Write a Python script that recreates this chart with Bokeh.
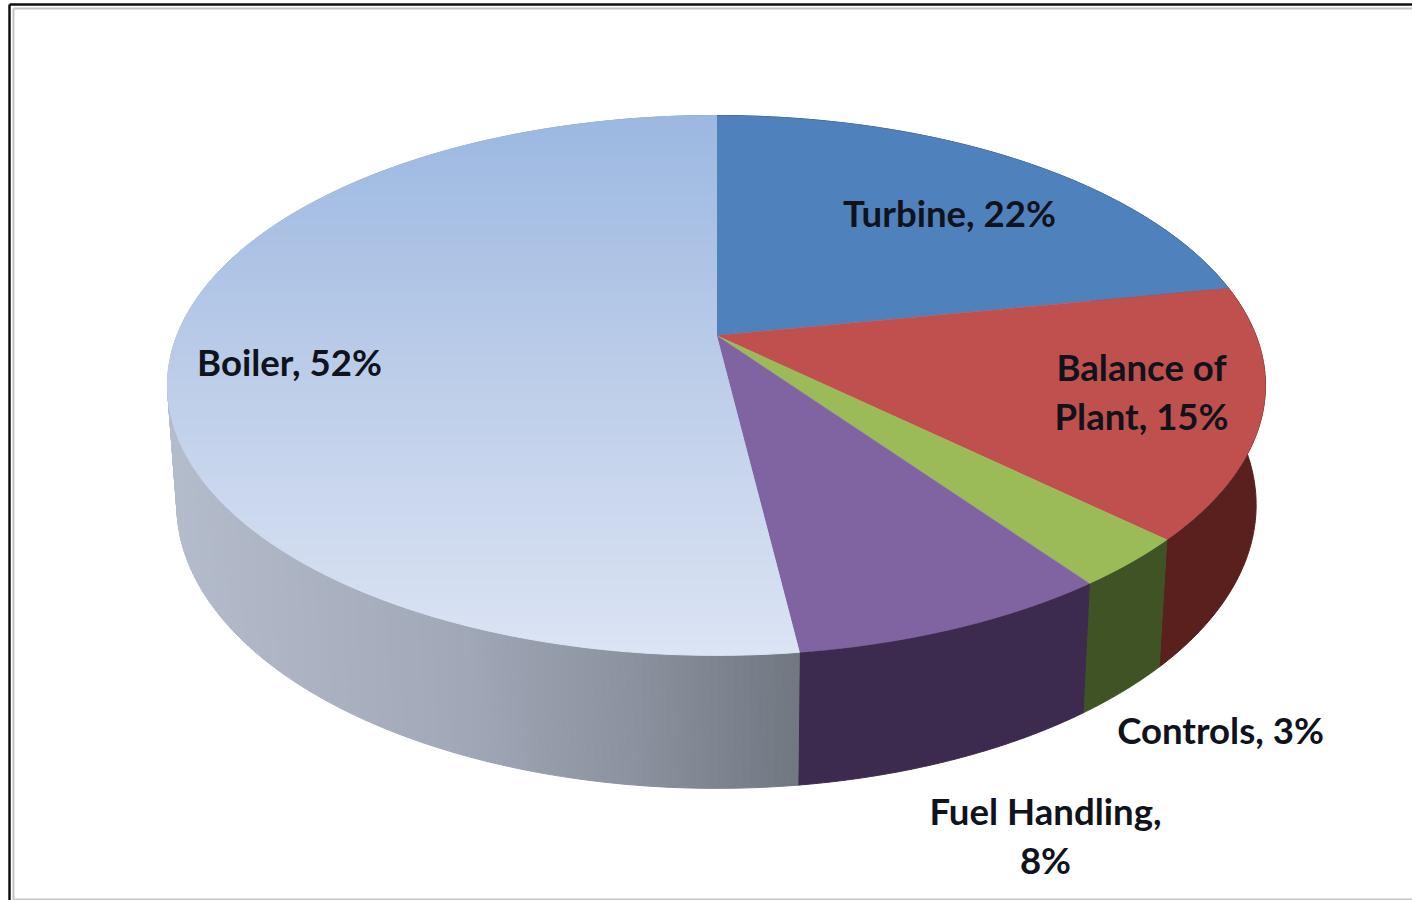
import numpy as np
from bokeh.plotting import figure
from bokeh.core.properties import value
from bokeh.embed import file_html
from bokeh.resources import INLINE

# ---- data ----
categories = ["Turbine", "Balance of Plant", "Controls", "Fuel Handling", "Boiler"]
shares = [22, 15, 3, 8, 52]
top_colors = ["#4f81bd", "#c0504d", "#9bbb59", "#8064a2", None]
side_colors = ["#2c4a70", "#5a201e", "#3f5324", "#3c2b4e", None]
label_lines = [["Turbine, 22%"], ["Balance of", "Plant, 15%"], ["Controls, 3%"],
               ["Fuel Handling,", "8%"], ["Boiler, 52%"]]

# ---- geometry of the tilted disc, in page pixels ----
CX, CY, A, B, K = 716.0, 335.0, 539.5, 260.7, 0.185
LOW_SCALE_X, LOW_SCALE_Y, LOW_CY = 0.983, 1.05, 452.0
LABEL_AT = [(949, 212), (1141, 366), (1220, 729), (1045, 810), (289, 361)]
LINE_GAP = 49
FONT = "Lato"
FONT_SIZE = "36.6px"


def rim(theta, lower=False):
    X, Y = np.sin(theta), np.cos(theta)
    d = 1 + K * Y
    if lower:
        return CX + LOW_SCALE_X * A * X / d, LOW_CY - LOW_SCALE_Y * B * Y / d
    return CX + A * X / d, CY - B * Y / d


def lerp(stops, t):
    t = min(max(t, 0.0), 1.0)
    for (t0, c0), (t1, c1) in zip(stops, stops[1:]):
        if t <= t1:
            f = (t - t0) / (t1 - t0)
            rgb = [round(c0[i] + (c1[i] - c0[i]) * f) for i in range(3)]
            return "#%02x%02x%02x" % tuple(rgb)
    return "#%02x%02x%02x" % tuple(stops[-1][1])


def clip_band(pts, y0, y1):
    def clip(points, keep, cross):
        out = []
        for a, b in zip(points, points[1:] + points[:1]):
            if keep(a):
                out.append(a)
            if keep(a) != keep(b):
                t = (cross - a[1]) / (b[1] - a[1])
                out.append((a[0] + (b[0] - a[0]) * t, cross))
        return out
    pts = clip(pts, lambda q: q[1] >= y0, y0)
    if pts:
        pts = clip(pts, lambda q: q[1] <= y1, y1)
    return pts


p = figure(width=1412, height=900, x_range=(0, 1412), y_range=(900, 0),
           output_backend="svg", toolbar_location=None, min_border=0,
           x_axis_location=None, y_axis_location=None,
           background_fill_color="#ffffff", border_fill_color="#ffffff")
p.grid.visible = False
p.outline_line_color = None

# frame
p.line([9, 9], [900, 4], line_color="#111111", line_width=2.5)
p.line([9, 1412], [4, 4], line_color="#111111", line_width=2.5)
p.line([13, 13], [900, 8], line_color="#c4c4c4", line_width=2)
p.line([13, 1412], [8, 8], line_color="#c4c4c4", line_width=2)
p.line([13, 1412], [899, 899], line_color="#c4c4c4", line_width=2)

edges = 2 * np.pi * np.cumsum([0] + shares) / sum(shares)
boiler_side_stops = [(0.0, (180, 188, 204)), (0.45, (161, 168, 183)),
                     (0.75, (138, 145, 158)), (1.0, (112, 119, 128))]

# side walls
for i, name in enumerate(categories):
    t0, t1 = edges[i], edges[i + 1]
    if side_colors[i] is not None:
        th = np.linspace(t0, t1, 80)
        ux, uy = rim(th)
        lx, ly = rim(th[::-1], lower=True)
        p.patch(np.r_[ux, lx], np.r_[uy, ly], fill_color=side_colors[i],
                line_color=side_colors[i], line_width=1)
    else:
        th = np.linspace(t0, t1, 260)
        xs, ys, cols = [], [], []
        for a, b in zip(th, th[1:]):
            ux, uy = rim(np.array([a, b]))
            lx, ly = rim(np.array([b, a]), lower=True)
            xs.append(np.r_[ux, lx].tolist())
            ys.append(np.r_[uy, ly].tolist())
            cols.append(lerp(boiler_side_stops, (ux.mean() - 170) / (798 - 170)))
        p.patches(xs, ys, fill_color=cols, line_color=cols, line_width=1)

# top faces
boiler_stops = [(0.0, (156, 184, 225)), (0.5, (190, 206, 233)), (1.0, (220, 228, 244))]
for i, name in enumerate(categories):
    th = np.linspace(edges[i], edges[i + 1], 240)
    rx, ry = rim(th)
    if top_colors[i] is not None:
        p.patch(np.r_[CX, rx], np.r_[CY, ry], fill_color=top_colors[i],
                line_color=top_colors[i], line_width=0.5)
    else:
        poly = [(CX, CY)] + list(zip(rx.tolist(), ry.tolist()))
        xs, ys, cols = [], [], []
        for y0 in np.arange(110, 660, 5.0):
            band = clip_band(poly, y0, y0 + 5)
            if len(band) >= 3:
                xs.append([q[0] for q in band])
                ys.append([q[1] for q in band])
                cols.append(lerp(boiler_stops, (y0 - 115) / 540))
        p.patches(xs, ys, fill_color=cols, line_color=cols, line_width=1)

# labels
for lines, (lx, ly) in zip(label_lines, LABEL_AT):
    for k, line in enumerate(lines):
        p.text([lx], [ly + k * LINE_GAP], text=[line], text_font=value(FONT),
               text_font_size=value(FONT_SIZE), text_font_style="bold",
               text_color="#10131c", text_align="center", text_baseline="middle")

open("out.html", "w").write(file_html(p, INLINE))
